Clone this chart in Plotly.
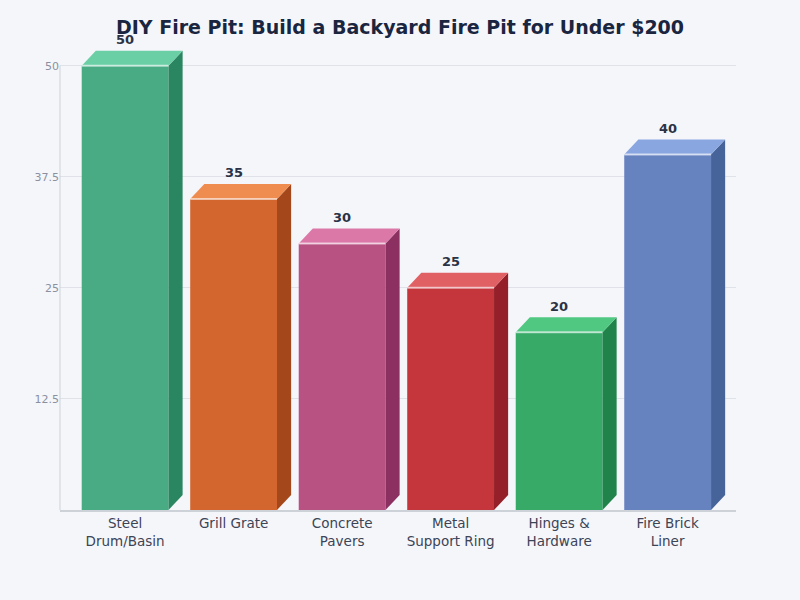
import plotly.graph_objects as go

categories = ["Steel<br>Drum/Basin", "Grill Grate", "Concrete<br>Pavers", "Metal<br>Support Ring", "Hinges &<br>Hardware", "Fire Brick<br>Liner"]
values = [50, 35, 30, 25, 20, 40]
front_colors = ["#48ab84", "#d2662e", "#b85283", "#c4363c", "#37aa68", "#6683c0"]
side_colors = ["#2a8660", "#a4481c", "#8c3062", "#952029", "#20844a", "#46639a"]
top_colors = ["#6bcfa6", "#ef8c50", "#dc78a8", "#e06064", "#50c882", "#8aa6e0"]
y_ticks = [12.5, 25, 37.5, 50]
y_tick_text = ["12.5", "25", "37.5", "50"]

bar_w = 0.8
dx = 0.13
dy = 1.69

fig = go.Figure()

fig.add_trace(go.Bar(
    x=list(range(len(values))), y=values, width=bar_w,
    marker=dict(color=front_colors, line=dict(width=0)),
    hoverinfo="skip", showlegend=False,
))

for i, v in enumerate(values):
    xl, xr = i - bar_w / 2, i + bar_w / 2
    # side face
    fig.add_trace(go.Scatter(
        x=[xr, xr + dx, xr + dx, xr, xr], y=[0, dy, v + dy, v, 0],
        fill="toself", fillcolor=side_colors[i], mode="lines",
        line=dict(width=0, color=side_colors[i]), hoverinfo="skip", showlegend=False,
    ))
    # top face
    fig.add_trace(go.Scatter(
        x=[xl, xr, xr + dx, xl + dx, xl], y=[v, v, v + dy, v + dy, v],
        fill="toself", fillcolor=top_colors[i], mode="lines",
        line=dict(width=0, color=top_colors[i]), hoverinfo="skip", showlegend=False,
    ))
    # highlight edge
    fig.add_trace(go.Scatter(
        x=[xl, xr], y=[v, v], mode="lines",
        line=dict(width=2, color="rgba(255,255,255,0.6)"),
        hoverinfo="skip", showlegend=False,
    ))
    fig.add_annotation(
        x=i, y=v, text=f"<b>{v}</b>", showarrow=False, yshift=26,
        font=dict(family="DejaVu Sans", size=13, color="#2b3245"),
    )

# y axis line only up to 50
fig.add_shape(type="line", xref="paper", yref="y", x0=0, x1=0, y0=0, y1=50,
              line=dict(color="#cdd1d8", width=1))

fig.update_layout(
    width=800, height=600,
    margin=dict(l=60, r=64, t=39, b=90),
    paper_bgcolor="#f5f6fa", plot_bgcolor="#f5f6fa",
    title=dict(text="<b>DIY Fire Pit: Build a Backyard Fire Pit for Under $200</b>",
               x=0.5, xanchor="center", y=0.955, yanchor="middle",
               font=dict(family="DejaVu Sans", size=19, color="#1a2540")),
    font=dict(family="DejaVu Sans"),
    bargap=0.2,
)
fig.update_xaxes(
    range=[-0.6, 5.63], tickvals=list(range(len(categories))), ticktext=categories,
    showgrid=False, zeroline=False, showline=True, linecolor="#cdd1d8", linewidth=2,
    tickfont=dict(size=13.5, color="#3c4456"), ticks="",
)
fig.update_yaxes(
    range=[0, 53], tickvals=y_ticks, ticktext=y_tick_text,
    showgrid=True, gridcolor="#dfe2e8", gridwidth=1, zeroline=False, showline=False,
    tickfont=dict(size=11, color="#8a90a0"), ticks="",
)

fig.write_html("out.html")
